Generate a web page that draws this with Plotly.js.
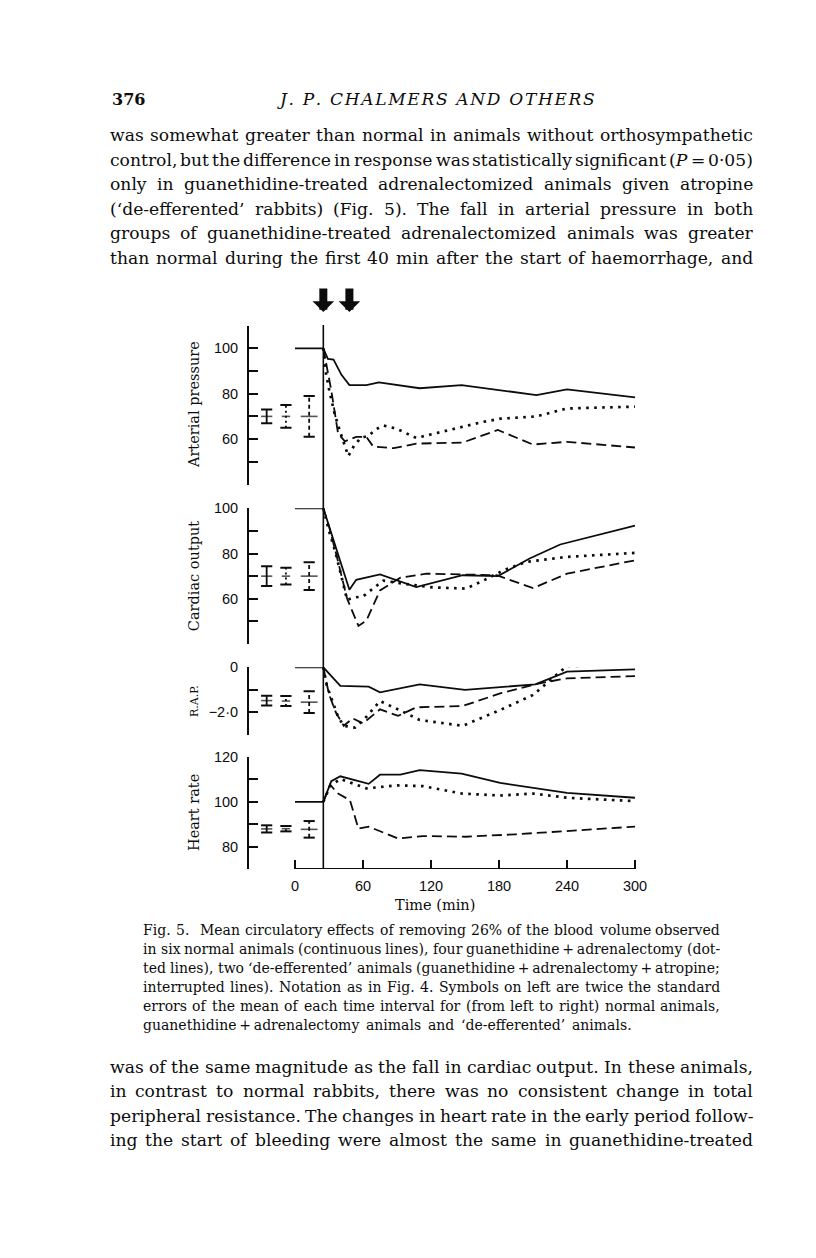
<!DOCTYPE html>
<html><head><meta charset="utf-8">
<script src="https://cdn.plot.ly/plotly-3.0.1.min.js"></script>
<style>html,body{margin:0;padding:0;background:#fff;}#chart{width:816px;height:1258px;}</style>
</head><body><div id="chart"></div>
<script>
// ---------------- DATA ----------------
const bleedStart = 25;            // min, start of haemorrhage (vertical line)
const arrowTimes = [25, 48];      // arrows above the figure
const xTicks = [0, 60, 120, 180, 240, 300];

// Arterial pressure (% of control)
const apNormT = [0, 25, 29, 34, 41, 48, 63, 74, 110, 147, 213, 240, 300];
const apNormV = [100, 100, 95.3, 95, 88.3, 83.8, 83.8, 85, 82.4, 83.8, 79.4, 81.9, 78.4];
const apGuanT = [25, 27, 30, 35, 40, 45, 47, 52, 58, 65, 72, 78, 90, 107, 137, 165, 181, 213, 240, 300];
const apGuanV = [100, 90, 82, 71, 63, 55, 52.5, 57, 60.5, 61.5, 64.5, 66, 64.5, 60.5, 64, 67.5, 69, 70, 73.5, 74.3];
const apDeefT = [25, 28, 32, 38, 44, 54, 63, 69, 87, 107, 148, 179, 210, 240, 300];
const apDeefV = [100, 92, 81.5, 62.5, 59, 61, 61, 56.7, 56, 58, 58.5, 64, 57.6, 58.8, 56.3];

// Cardiac output
const coNormT = [0, 25, 48, 54, 75, 107, 148, 179, 207, 234, 300];
const coNormV = [100, 100, 64, 68.4, 70.8, 65.2, 70.4, 70, 77.8, 84, 92.3];
const coGuanT = [25, 30, 36, 42, 46, 51, 60, 70, 78, 95, 122, 151, 166, 184, 204, 240, 300];
const coGuanV = [100, 90, 80, 68, 59.5, 60.5, 61, 65, 68, 66.7, 65, 64.5, 68, 72.6, 76.3, 78.5, 80.3];
const coDeefT = [25, 30, 37, 46, 56, 63, 75, 93, 116, 178, 210, 240, 300];
const coDeefV = [100, 92, 78.5, 60, 48, 50.4, 63.7, 69.3, 71.1, 70.4, 64.7, 71.1, 77];

// Right atrial pressure (change)
const rapNormT = [0, 25, 40, 65, 75, 110, 150, 212, 240, 300];
const rapNormV = [0, 0, -0.83, -0.86, -1.11, -0.76, -1.0, -0.76, -0.19, -0.09];
const rapGuanT = [25, 28, 33, 38, 43, 53, 63, 75, 95, 110, 148, 181, 210, 240, 300];
const rapGuanV = [0, -0.8, -1.5, -2.2, -2.6, -2.68, -2.2, -1.5, -1.97, -2.34, -2.6, -1.9, -1.23, 0.06, 0.1];
const rapDeefT = [25, 30, 36, 43, 51, 60, 75, 91, 107, 148, 181, 216, 240, 300];
const rapDeefV = [0, -1.2, -2.0, -2.6, -2.27, -2.49, -1.87, -2.16, -1.78, -1.72, -1.16, -0.71, -0.49, -0.39];

// Heart rate
const hrNormT = [0, 25, 32, 40, 65, 75, 93, 110, 147, 181, 240, 300];
const hrNormV = [100, 100, 109.2, 111.4, 108, 112.1, 112.1, 114.1, 112.6, 108.4, 104, 101.8];
const hrGuanT = [25, 31, 40, 63, 90, 113, 147, 181, 210, 240, 300];
const hrGuanV = [100, 107, 110.2, 106, 107.3, 107, 103.7, 102.8, 103.7, 101.8, 100.3];
const hrDeefT = [25, 31, 37, 48.5, 56, 65, 91, 113, 151, 195, 300];
const hrDeefV = [100, 107.7, 104, 100.7, 88, 88.9, 83.6, 84.7, 84.4, 85.5, 88.9];

// 2 x S.E. symbols on left: centre and half-height for normal, guan+adx, de-efferented
const seX = [-25, -8, 12.5];
const apSEc = [70, 70, 70],        apSEh = [3, 5, 9];
const coSEc = [70, 70, 70],        coSEh = [4.4, 3.7, 6.1];
const rapSEc = [-1.48, -1.5, -1.55], rapSEh = [0.22, 0.22, 0.48];
const hrSEc = [87.9, 88, 87.7],    hrSEh = [1.6, 1.2, 3.7];

// Axis ticks
const apTicks = [40, 50, 60, 70, 80, 90, 100, 110];
const apTickText = ['', '', '60', '', '80', '', '100', ''];
const coTicks = [40, 50, 60, 70, 80, 90, 100];
const coTickText = ['', '', '60', '', '80', '', '100'];
const rapTicks = [-3, -2, -1, 0];
const rapTickText = ['', '\u22122\u00b70', '', '0'];
const hrTicks = [70, 80, 90, 100, 110, 120];
const hrTickText = ['', '80', '', '100', '', '120'];

const panelTitles = ['Arterial pressure', 'Cardiac output', 'R.A.P.', 'Heart rate'];
const xTitle = 'Time (min)';

// Page text
const headerNum = '376';
const headerTitle = 'J. P. CHALMERS AND OTHERS';
const topLines = [
  'was somewhat greater than normal in animals without orthosympathetic',
  'control, but the difference in response was statistically significant (<i>P</i> = 0\u00b705)',
  'only in guanethidine-treated adrenalectomized animals given atropine',
  '(\u2018de-efferented\u2019 rabbits) (Fig. 5). The fall in arterial pressure in both',
  'groups of guanethidine-treated adrenalectomized animals was greater',
  'than normal during the first 40 min after the start of haemorrhage, and'
];
const captionLines = [
  'Fig. 5.  Mean circulatory effects of removing 26% of the blood volume observed',
  'in six normal animals (continuous lines), four guanethidine\u2009+\u2009adrenalectomy (dot-',
  'ted lines), two \u2018de-efferented\u2019 animals (guanethidine\u2009+\u2009adrenalectomy\u2009+\u2009atropine;',
  'interrupted lines). Notation as in Fig. 4. Symbols on left are twice the standard',
  'errors of the mean of each time interval for (from left to right) normal animals,',
  'guanethidine\u2009+\u2009adrenalectomy animals and \u2018de-efferented\u2019 animals.'
];
const bottomLines = [
  'was of the same magnitude as the fall in cardiac output. In these animals,',
  'in contrast to normal rabbits, there was no consistent change in total',
  'peripheral resistance. The changes in heart rate in the early period follow-',
  'ing the start of bleeding were almost the same in guanethidine-treated'
];

// ---------------- LAYOUT HELPERS ----------------
const W = 816, H = 1258;
const PX = v => v / W;
const PY = v => 1 - v / H;
const INK = '#0c0c0c';
const SERIF = 'DejaVu Serif';
const SANS = 'Liberation Sans';

const cv = document.createElement('canvas');
const ctx = cv.getContext('2d');
function tw(s, fam, size, pre) {
  ctx.font = (pre || '') + ' ' + size + 'px "' + fam + '"';
  return ctx.measureText(s.replace(/<[^>]+>/g, '')).width;
}
function fitSize(lines, Wt, fam, maxSize, lastLeft, minGap) {
  let size = maxSize;
  lines.forEach((ln, i) => {
    if (lastLeft && i === lines.length - 1) return;
    const words = ln.split(' ');
    const sw = words.reduce((a, w) => a + tw(w, fam, 100), 0) / 100;
    const s = (Wt - (words.length - 1) * minGap) / sw;
    if (s < size) size = s;
  });
  return size;
}
function paragraph(lines, x0, x1, yc0, dy, fam, size, lastLeft) {
  const Wt = x1 - x0;
  const anns = [];
  lines.forEach((ln, i) => {
    const words = ln.split(' ');
    const ws = words.map(w => tw(w, fam, size));
    const tot = ws.reduce((a, b) => a + b, 0);
    let gap = words.length > 1 ? (Wt - tot) / (words.length - 1) : 0;
    if (lastLeft && i === lines.length - 1) gap = tw('n', fam, size) * 0.75;
    let x = x0;
    const y = yc0 + i * dy;
    words.forEach((w, k) => {
      anns.push({xref: 'paper', yref: 'paper', x: PX(x), y: PY(y), xanchor: 'left', yanchor: 'middle',
        text: w, showarrow: false, borderpad: 0, borderwidth: 0,
        font: {family: fam, size: size, color: INK}});
      x += ws[k] + gap;
    });
  });
  return anns;
}

// ---------------- PANELS ----------------
const xPix0 = 249, xPix1 = 640, pxPerMin = 340 / 300, xZeroPix = 295;
const xRange = [(xPix0 - xZeroPix) / pxPerMin, (xPix1 - xZeroPix) / pxPerMin];

const panels = [
  {ax: 'y',  key: 'yaxis',  top: 325.6, bot: 484.5, range: [40, 110], ticks: apTicks, text: apTickText,
   series: [[apNormT, apNormV], [apGuanT, apGuanV], [apDeefT, apDeefV]], sec: apSEc, seh: apSEh},
  {ax: 'y2', key: 'yaxis2', top: 508.3, bot: 644, range: [40, 100], ticks: coTicks, text: coTickText,
   series: [[coNormT, coNormV], [coGuanT, coGuanV], [coDeefT, coDeefV]], sec: coSEc, seh: coSEh},
  {ax: 'y3', key: 'yaxis3', top: 667.3, bot: 734.8, range: [-3, 0], ticks: rapTicks, text: rapTickText,
   series: [[rapNormT, rapNormV], [rapGuanT, rapGuanV], [rapDeefT, rapDeefV]], sec: rapSEc, seh: rapSEh},
  {ax: 'y4', key: 'yaxis4', top: 757.0, bot: 869.0, range: [70, 120], ticks: hrTicks, text: hrTickText,
   series: [[hrNormT, hrNormV], [hrGuanT, hrGuanV], [hrDeefT, hrDeefV]], sec: hrSEc, seh: hrSEh}
];
const dashes = ['solid', '2.6px,5.4px', '10px,5px'];
const widths = [1.8, 2.7, 1.8];
const seDash = ['solid', '2px,3px', '4px,3px'];
const centreSize = [8, 6, 12];

const traces = [];
const layout = {
  width: W, height: H, margin: {l: 0, r: 0, t: 0, b: 0},
  paper_bgcolor: '#ffffff', plot_bgcolor: 'rgba(0,0,0,0)', showlegend: false,
  xaxis: {domain: [PX(xPix0), PX(xPix1)], range: xRange, anchor: 'y4', showline: false, showgrid: false,
    zeroline: false, ticks: 'inside', ticklen: 9, tickwidth: 2, tickcolor: INK, tickvals: xTicks,
    ticktext: xTicks.map(String), tickfont: {family: SANS, size: 14.5, color: INK}, ticklabelstandoff: 6,
    fixedrange: true},
  shapes: [], annotations: []
};

panels.forEach((p, pi) => {
  layout[p.key] = {domain: [PY(p.bot), PY(p.top)], range: p.range, anchor: 'x', showline: true,
    linecolor: INK, linewidth: 2, showgrid: false, zeroline: false, ticks: 'inside', ticklen: 9,
    tickwidth: 2, tickcolor: INK, tickvals: p.ticks, ticktext: p.text,
    tickfont: {family: SANS, size: 14.5, color: INK}, ticklabelstandoff: 6, fixedrange: true};
  p.series.forEach((s, si) => {
    traces.push({x: s[0], y: s[1], yaxis: p.ax, xaxis: 'x', mode: 'lines', hoverinfo: 'skip',
      line: {color: INK, width: widths[si], dash: dashes[si]}});
  });
  // S.E. symbols
  const capX = [], capY = [];
  seX.forEach((xv, gi) => {
    const lo = p.sec[gi] - p.seh[gi], hi = p.sec[gi] + p.seh[gi];
    traces.push({x: [xv, xv], y: [lo, hi], yaxis: p.ax, xaxis: 'x', mode: 'lines', hoverinfo: 'skip',
      line: {color: INK, width: 1.8, dash: seDash[gi]}});
    capX.push(xv, xv); capY.push(lo, hi);
  });
  traces.push({x: capX, y: capY, yaxis: p.ax, xaxis: 'x', mode: 'markers', hoverinfo: 'skip',
    marker: {symbol: 'line-ew', size: 8, line: {color: INK, width: 2}}});
  traces.push({x: seX, y: p.sec, yaxis: p.ax, xaxis: 'x', mode: 'markers', hoverinfo: 'skip',
    marker: {symbol: 'line-ew', size: centreSize, line: {color: INK, width: 1.6}}});
  // panel title
  layout.annotations.push({xref: 'paper', yref: 'paper', x: PX(194), y: PY((p.top + p.bot) / 2),
    xanchor: 'center', yanchor: 'middle', textangle: -90, showarrow: false, text: panelTitles[pi],
    font: {family: SERIF, size: pi === 2 ? 11 : 14.5, color: INK}});
});

// vertical line at start of bleeding
layout.shapes.push({type: 'line', xref: 'x', yref: 'paper', x0: bleedStart, x1: bleedStart,
  y0: PY(869), y1: PY(325), line: {color: INK, width: 1.6}});
// x axis line 0-300
layout.shapes.push({type: 'line', xref: 'x', yref: 'y4', x0: xTicks[0], x1: xTicks[xTicks.length - 1],
  y0: hrTicks[0], y1: hrTicks[0], line: {color: INK, width: 2}});
// arrows
arrowTimes.forEach(t => {
  layout.annotations.push({xref: 'x', yref: 'paper', x: t, y: PY(312), ax: 0, ay: -25, text: '',
    showarrow: true, arrowhead: 1, arrowwidth: 8, arrowsize: 0.45, arrowcolor: INK});
});
// x title
layout.annotations.push({xref: 'paper', yref: 'paper', x: PX(435), y: PY(905), xanchor: 'center',
  yanchor: 'middle', showarrow: false, text: xTitle, font: {family: SERIF, size: 14.5, color: INK}});

// header
layout.annotations.push({xref: 'paper', yref: 'paper', x: PX(110), y: PY(99), xanchor: 'left',
  yanchor: 'middle', showarrow: false, text: '<b>' + headerNum + '</b>', font: {family: SERIF, size: 16, color: INK}});
layout.annotations.push({xref: 'paper', yref: 'paper', x: PX(436), y: PY(99), xanchor: 'center',
  yanchor: 'middle', showarrow: false, text: '<i>' + headerTitle.split('').join('\u200a') + '</i>',
  font: {family: SERIF, size: 17, color: INK}});

const bodySize = Math.min(fitSize(topLines, 643, SERIF, 18, false, 3), fitSize(bottomLines, 643, SERIF, 18, false, 3));
const capSize = fitSize(captionLines, 577, SERIF, 14, true, 3);
layout.annotations.push(...paragraph(topLines, 110, 753, 135, 24.6, SERIF, bodySize, false));
layout.annotations.push(...paragraph(captionLines, 143, 720, 930, 19, SERIF, capSize, true));
layout.annotations.push(...paragraph(bottomLines, 110, 753, 1067, 24.4, SERIF, bodySize, false));

Plotly.newPlot('chart', traces, layout, {staticPlot: true, displayModeBar: false});
</script></body></html>
